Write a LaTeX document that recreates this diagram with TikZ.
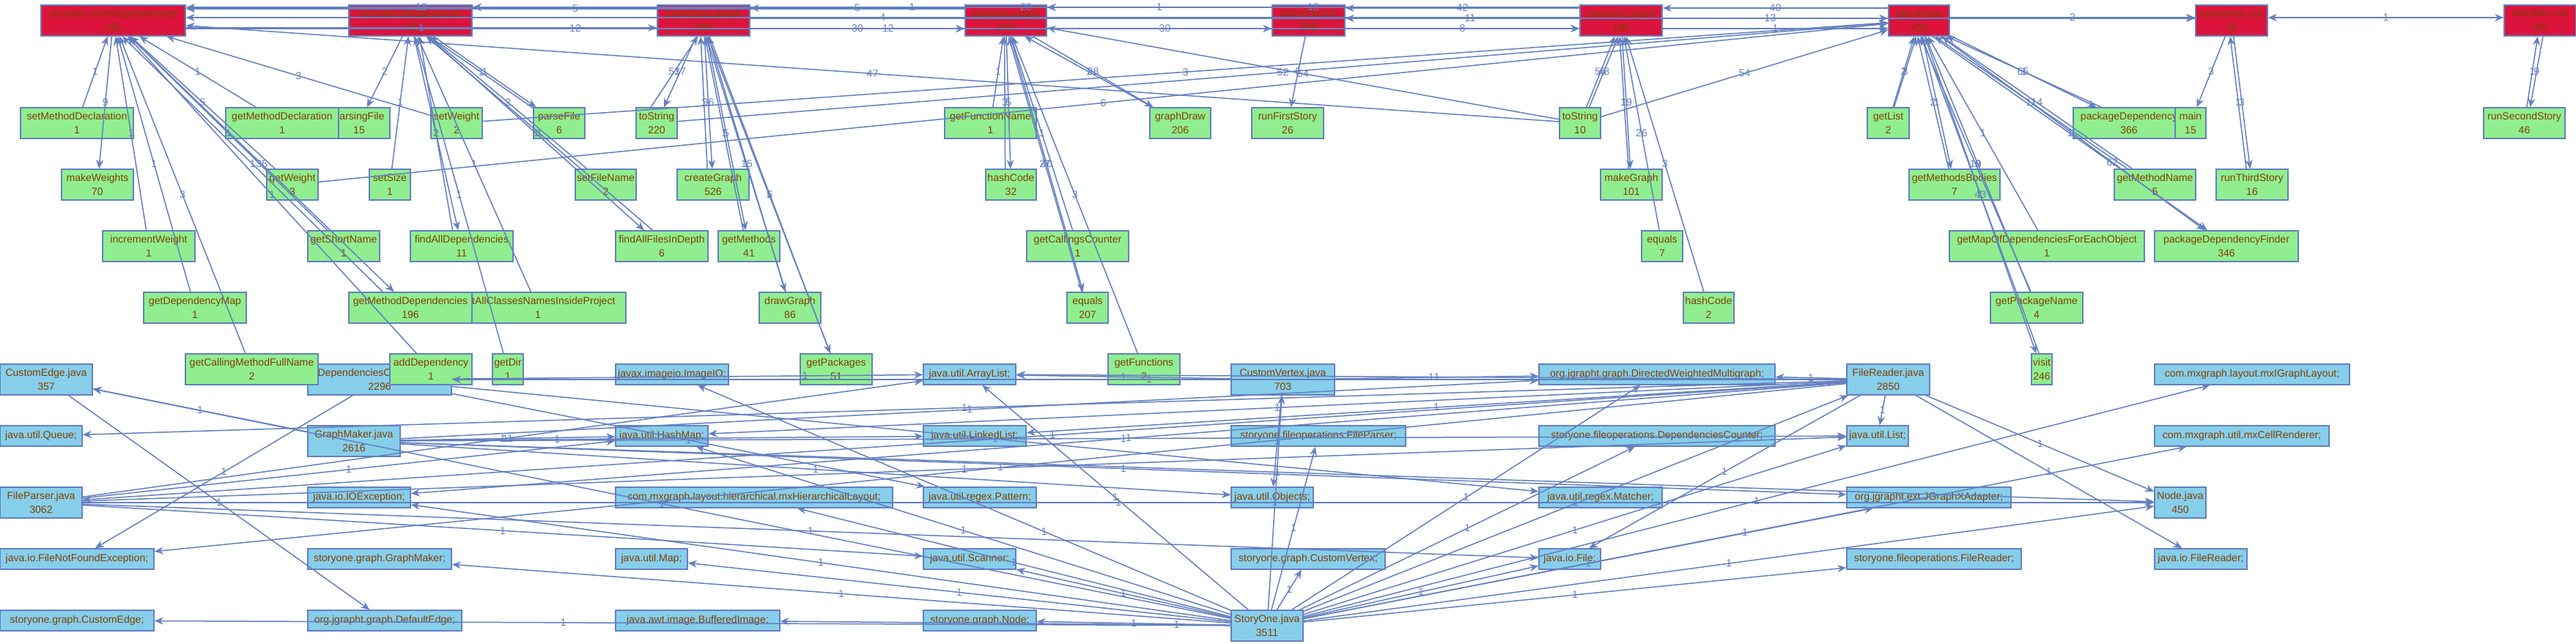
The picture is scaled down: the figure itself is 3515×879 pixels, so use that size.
\documentclass[tikz,border=0pt]{standalone}
\usepackage{fontspec}
\setmainfont{Liberation Sans}
\usetikzlibrary{arrows.meta}
\definecolor{pkgred}{RGB}{220,20,60}
\definecolor{methgreen}{RGB}{144,238,144}
\definecolor{fileblue}{RGB}{135,206,235}
\definecolor{edgeblue}{RGB}{100,128,192}
\definecolor{txtbrown}{RGB}{128,64,0}
\begin{document}
\begin{tikzpicture}[x=0.2mm, y=-0.2mm, >={Stealth[length=2.4mm,width=2mm]}, font=\fontsize{8}{10.8}\selectfont]
    \tikzset{box/.style={draw=edgeblue, line width=0.3mm, text=txtbrown, align=center, inner xsep=0.5pt, inner ysep=0pt, minimum height=8.4mm},
      pkg/.style={box, fill=pkgred},
      meth/.style={box, fill=methgreen},
      file/.style={box, fill=fileblue},
      imp/.style={box, fill=fileblue, minimum height=5.6mm},
      wd/.style={minimum width=#1*0.2mm},
      link/.style={draw=edgeblue, line width=0.3mm, ->},
      lbl/.style={text=edgeblue, inner sep=0pt, font=\fontsize{8}{8}\selectfont}}
    \useasboundingbox[fill=white] (0,0) rectangle (3515,879);
    % packages
    \node[pkg, wd=197] (methdep) at (154.5,28) {storytwo.methdependencies\\195};
    \node[pkg, wd=168] (fileops) at (560,28) {storyone.fileoperations\\70};
    \node[pkg, wd=126] (threegraph) at (960,28) {storythree.graph\\260};
    \node[pkg, wd=111] (twograph) at (1372.5,28) {storytwo.graph\\240};
    \node[pkg, wd=99] (onerun) at (1785.5,28) {storyone.run\\300};
    \node[pkg, wd=112] (onegraph) at (2212,28) {storyone.graph\\185};
    \node[pkg, wd=83] (three) at (2618.5,28) {storythree\\405};
    \node[pkg, wd=98] (threerun) at (3045,28) {storythree.run\\35};
    \node[pkg, wd=98] (tworun) at (3466,28) {storytwo.run\\40};
    % methods
    \node[meth, wd=154] (setMD) at (105,168) {setMethodDeclaration\\1};
    \node[meth, wd=84] (parsingF) at (490,168) {parsingFile\\15};
    \node[meth, wd=154] (getMD) at (385,168) {getMethodDeclaration\\1};
    \node[meth, wd=70] (setW) at (623,168) {setWeight\\2};
    \node[meth, wd=70] (parseF) at (763,168) {parseFile\\6};
    \node[meth, wd=56] (toStrA) at (896,168) {toString\\220};
    \node[meth, wd=125] (getFuncN) at (1351.5,168) {getFunctionName\\1};
    \node[meth, wd=83] (graphD) at (1610.5,168) {graphDraw\\206};
    \node[meth, wd=98] (runFirst) at (1757,168) {runFirstStory\\26};
    \node[meth, wd=56] (toStrB) at (2156,168) {toString\\10};
    \node[meth, wd=57] (getList) at (2576.5,168) {getList\\2};
    \node[meth, wd=152] (pkgDep) at (2905,168) {packageDependency\\366};
    \node[meth, wd=42] (main) at (2989,168) {main\\15};
    \node[meth, wd=111] (runSecond) at (3444.5,168) {runSecondStory\\46};
    \node[meth, wd=98] (makeW) at (133,252) {makeWeights\\70};
    \node[meth, wd=70] (getW) at (399,252) {getWeight\\3};
    \node[meth, wd=56] (setSize) at (532,252) {setSize\\1};
    \node[meth, wd=83] (setFileN) at (826.5,252) {setFileName\\2};
    \node[meth, wd=98] (createG) at (973,252) {createGraph\\526};
    \node[meth, wd=69] (hashA) at (1379.5,252) {hashCode\\32};
    \node[meth, wd=84] (makeG) at (2226,252) {makeGraph\\101};
    \node[meth, wd=124] (getMB) at (2667,252) {getMethodsBodies\\7};
    \node[meth, wd=111] (getMName) at (2940.5,252) {getMethodName\\5};
    \node[meth, wd=98] (runThird) at (3073,252) {runThirdStory\\16};
    \node[meth, wd=126] (incW) at (203,336) {incrementWeight\\1};
    \node[meth, wd=98] (getShort) at (469,336) {getShortName\\1};
    \node[meth, wd=140] (findAllDep) at (630,336) {findAllDependencies\\11};
    \node[meth, wd=126] (findAllFiles) at (903,336) {findAllFilesInDepth\\6};
    \node[meth, wd=84] (getMeths) at (1022,336) {getMethods\\41};
    \node[meth, wd=139] (getCallCnt) at (1470.5,336) {getCallingsCounter\\1};
    \node[meth, wd=56] (equalsB) at (2268,336) {equals\\7};
    \node[meth, wd=266] (getMapOf) at (2793,336) {getMapOfDependenciesForEachObject\\1};
    \node[meth, wd=196] (pkgFinder) at (3038,336) {packageDependencyFinder\\346};
    \node[meth, wd=140] (getDepMap) at (266,420) {getDependencyMap\\1};
    \node[meth, wd=240] (getAllCls) at (734,420) {getAllClassesNamesInsideProject\\1};
    \node[meth, wd=168] (getMDeps) at (560,420) {getMethodDependencies\\196};
    \node[meth, wd=84] (drawG) at (1078,420) {drawGraph\\86};
    \node[meth, wd=56] (equalsA) at (1484,420) {equals\\207};
    \node[meth, wd=69] (hashB) at (2331.5,420) {hashCode\\2};
    \node[meth, wd=126] (getPkgName) at (2779,420) {getPackageName\\4};
    \node[file, wd=196] (depCntJava) at (518,518) {DependenciesCounter.java\\2296};
    \node[meth, wd=181] (getCallFull) at (343.5,504) {getCallingMethodFullName\\2};
    \node[meth, wd=112] (addDep) at (588,504) {addDependency\\1};
    \node[meth, wd=42] (getDir) at (693,504) {getDir\\1};
    \node[meth, wd=98] (getPkgs) at (1141,504) {getPackages\\51};
    \node[meth, wd=98] (getFuncs) at (1561,504) {getFunctions\\2};
    \node[meth, wd=28] (visit) at (2786,504) {visit\\246};
    % java files
    \node[file, wd=126] (custEdgeJava) at (63,518) {CustomEdge.java\\357};
    \node[file, wd=126] (graphMakerJava) at (483,602) {GraphMaker.java\\2616};
    \node[file, wd=112] (fileParserJava) at (56,686) {FileParser.java\\3062};
    \node[file, wd=141] (custVertexJava) at (1750.5,518) {CustomVertex.java\\703};
    \node[file, wd=113] (fileReaderJava) at (2576.5,518) {FileReader.java\\2850};
    \node[file, wd=98] (storyOneJava) at (1729,854) {StoryOne.java\\3511};
    \node[file, wd=70] (nodeJava) at (2975,686) {Node.java\\450};
    % imports
    \node[imp, wd=112] (queueImp) at (56,595) {java.util.Queue;};
    \node[imp, wd=210] (fnfImp) at (105,763) {java.io.FileNotFoundException;};
    \node[imp, wd=210] (custEdgeImp) at (105,847) {storyone.graph.CustomEdge;};
    \node[imp, wd=140] (ioException) at (490,679) {java.io.IOException;};
    \node[imp, wd=196] (graphMakerImp) at (518,763) {storyone.graph.GraphMaker;};
    \node[imp, wd=210] (defEdge) at (525,847) {org.jgrapht.graph.DefaultEdge;};
    \node[imp, wd=154] (imageIO) at (917,511) {javax.imageio.ImageIO;};
    \node[imp, wd=126] (hashMapImp) at (903,595) {java.util.HashMap;};
    \node[imp, wd=378] (hierLayout) at (1029,679) {com.mxgraph.layout.hierarchical.mxHierarchicalLayout;};
    \node[imp, wd=98] (mapImp) at (889,763) {java.util.Map;};
    \node[imp, wd=224] (bufImg) at (952,847) {java.awt.image.BufferedImage;};
    \node[imp, wd=126] (arrayList) at (1323,511) {java.util.ArrayList;};
    \node[imp, wd=140] (linkedList) at (1330,595) {java.util.LinkedList;};
    \node[imp, wd=154] (patternImp) at (1337,679) {java.util.regex.Pattern;};
    \node[imp, wd=126] (scannerImp) at (1323,763) {java.util.Scanner;};
    \node[imp, wd=154] (nodeImp) at (1337,847) {storyone.graph.Node;};
    \node[imp, wd=238] (fileParserImp) at (1799,595) {storyone.fileoperations.FileParser;};
    \node[imp, wd=112] (objectsImp) at (1736,679) {java.util.Objects;};
    \node[imp, wd=210] (custVertexImp) at (1785,763) {storyone.graph.CustomVertex;};
    \node[imp, wd=322] (dwMultigraph) at (2261,511) {org.jgrapht.graph.DirectedWeightedMultigraph;};
    \node[imp, wd=322] (depCntImp) at (2261,595) {storyone.fileoperations.DependenciesCounter;};
    \node[imp, wd=168] (matcherImp) at (2184,679) {java.util.regex.Matcher;};
    \node[imp, wd=84] (fileImp) at (2142,763) {java.io.File;};
    \node[imp, wd=84] (listImp) at (2562,595) {java.util.List;};
    \node[imp, wd=224] (jgxAdapter) at (2632,679) {org.jgrapht.ext.JGraphXAdapter;};
    \node[imp, wd=238] (fileReaderImp) at (2639,763) {storyone.fileoperations.FileReader;};
    \node[imp, wd=266] (mxLayout) at (3073,511) {com.mxgraph.layout.mxIGraphLayout;};
    \node[imp, wd=238] (cellRenderer) at (3059,595) {com.mxgraph.util.mxCellRenderer;};
    \node[imp, wd=126] (ioFileReader) at (3003,763) {java.io.FileReader;};
    % package to package
    \draw[link] ([yshift=3.6mm]threegraph.west) -- node[lbl]{18} ([yshift=3.6mm]methdep.east);
    \draw[link] ([yshift=-2mm]methdep.east) -- node[lbl]{1} ([yshift=-2mm]threegraph.west);
    \draw[link] ([yshift=3.2mm]twograph.west) -- node[lbl]{5} ([yshift=3.2mm]methdep.east);
    \draw[link] ([yshift=-2.2mm]methdep.east) -- node[lbl]{12} ([yshift=-2.2mm]twograph.west);
    \draw[link] ([yshift=3.4mm]twograph.west) -- node[lbl]{5} ([yshift=3.4mm]threegraph.east);
    \draw[link] ([yshift=-2.2mm]threegraph.east) -- node[lbl]{30} ([yshift=-2.2mm]twograph.west);
    \draw[link] ([yshift=3.6mm]onerun.west) -- node[lbl, pos=0.45]{1} ([yshift=3.6mm]fileops.east);
    \draw[link] ([yshift=-2.2mm]fileops.east) -- node[lbl, pos=0.52]{12} ([yshift=-2.2mm]onerun.west);
    \draw[link] ([yshift=0.8mm]onegraph.west) -- node[lbl]{4} ([yshift=0.8mm]methdep.east);
    \draw[link] ([yshift=3.6mm]onegraph.west) -- node[lbl]{20} ([yshift=3.6mm]fileops.east);
    \draw[link] ([yshift=3.6mm]onerun.west) -- node[lbl]{1} ([yshift=3.6mm]twograph.east);
    \draw[link] ([yshift=-2.2mm]threegraph.east) -- node[lbl]{30} ([yshift=-2.2mm]onegraph.west);
    \draw[link] ([yshift=3.6mm]onegraph.west) -- node[lbl]{18} ([yshift=3.6mm]twograph.east);
    \draw[link] ([yshift=3.4mm]onegraph.west) -- node[lbl]{42} ([yshift=3.4mm]onerun.east);
    \draw[link] ([yshift=0.6mm]twograph.east) -- node[lbl]{1} ([yshift=0.6mm]three.west);
    \draw[link] ([yshift=0.6mm]threegraph.east) -- node[lbl]{1} ([yshift=0.6mm]threerun.west);
    \draw[link] ([yshift=-2.2mm]onerun.east) -- node[lbl]{8} ([yshift=-2.2mm]onegraph.west);
    \draw[link] ([yshift=3.4mm]three.west) -- node[lbl]{40} ([yshift=3.4mm]onegraph.east);
    \draw[link] ([yshift=0.6mm]threerun.west) -- node[lbl]{13} ([yshift=0.6mm]onerun.east);
    \draw[link] ([yshift=-2.2mm]onegraph.east) -- node[lbl]{1} ([yshift=-2.2mm]three.west);
    \draw[link] ([yshift=0.8mm]three.east) -- node[lbl]{2} ([yshift=0.8mm]threerun.west);
    \draw[link, <->] ([yshift=0.8mm]threerun.east) -- node[lbl]{1} ([yshift=0.8mm]tworun.west);
    % storytwo.methdependencies
    \draw[link] (setMD) -- node[lbl]{1} (methdep);
    \draw[link] (methdep) -- node[lbl]{9} (makeW);
    \draw[link] (incW) -- node[lbl]{1} (methdep);
    \draw[link] (getDepMap) -- node[lbl]{1} (methdep);
    \draw[link] (getCallFull) -- node[lbl]{3} (methdep);
    \draw[link] (getMD) -- node[lbl]{1} (methdep);
    \draw[link] (setW) -- node[lbl]{3} (methdep);
    \draw[link] (getW) -- node[lbl]{5} (methdep);
    \draw[link] (getShort) -- node[lbl]{1} (methdep);
    \draw[link] (methdep) -- node[lbl]{35} (getMDeps);
    \draw[link] (getMDeps.150) -- node[lbl]{1} (methdep.-60);
    \draw[link] (addDep) -- node[lbl]{1} (methdep);
    \draw[link] (toStrB) -- node[lbl]{47} (methdep);
    % storyone.fileoperations
    \draw[link] (fileops) -- node[lbl]{2} (parsingF);
    \draw[link] (setSize) -- node[lbl]{1} (fileops);
    \draw[link] (fileops) -- node[lbl]{2} (findAllDep);
    \draw[link] (findAllDep.120) -- node[lbl]{1} (fileops.-60);
    \draw[link] (getAllCls) -- node[lbl]{1} (fileops);
    \draw[link] (getDir) -- node[lbl]{1} (fileops);
    \draw[link] (fileops) -- node[lbl]{1} (parseF);
    \draw[link] (parseF.150) -- node[lbl]{1} (fileops.-40);
    \draw[link] (setFileN) -- node[lbl]{2} (fileops);
    \draw[link] (fileops) -- node[lbl]{1} (findAllFiles);
    \draw[link] (findAllFiles.120) -- node[lbl]{1} (fileops.-45);
    \draw[link] (setW) -- node[lbl]{3} (three);
    \draw[link] (getW) -- node[lbl]{6} (three);
    \draw[link] (toStrA) -- node[lbl]{52} (three);
    % storythree.graph
    \draw[link] (threegraph) -- node[lbl]{37} (toStrA);
    \draw[link] (toStrA.110) -- node[lbl]{51} (threegraph.-110);
    \draw[link] (threegraph) -- node[lbl]{96} (createG);
    \draw[link] (createG.110) -- node[lbl]{1} (threegraph.-100);
    \draw[link] (threegraph) -- node[lbl]{5} (getMeths);
    \draw[link] (getMeths.110) -- node[lbl]{1} (threegraph.-85);
    \draw[link] (threegraph) -- node[lbl]{15} (drawG);
    \draw[link] (drawG.105) -- node[lbl]{1} (threegraph.-80);
    \draw[link] (threegraph) -- node[lbl]{6} (getPkgs);
    \draw[link] (getPkgs.110) -- node[lbl]{1} (threegraph.-75);
    % storytwo.graph
    \draw[link] (getFuncN) -- node[lbl]{1} (twograph);
    \draw[link] (twograph) -- node[lbl]{5} (hashA);
    \draw[link] (hashA.110) -- node[lbl]{3} (twograph.-95);
    \draw[link] (getCallCnt) -- node[lbl]{1} (twograph);
    \draw[link] (twograph) -- node[lbl]{40} (equalsA);
    \draw[link] (equalsA.110) -- node[lbl]{27} (twograph.-80);
    \draw[link] (getFuncs) -- node[lbl]{3} (twograph);
    \draw[link] (twograph) -- node[lbl]{38} (graphD);
    \draw[link] (graphD.150) -- node[lbl]{1} (twograph.-40);
    \draw[link] (toStrB) -- node[lbl]{54} (twograph);
    % storyone.run and storyone.graph
    \draw[link] (onerun) -- node[lbl]{5} (runFirst);
    \draw[link] (toStrB) -- node[lbl]{55} (onegraph);
    \draw[link] (toStrB.60) -- node[lbl]{48} (onegraph.-100);
    \draw[link] (onegraph) -- node[lbl]{19} (makeG);
    \draw[link] (makeG.100) -- node[lbl]{1} (onegraph.-95);
    \draw[link] (equalsB) -- node[lbl]{26} (onegraph);
    \draw[link] (hashB) -- node[lbl]{3} (onegraph);
    \draw[link] (toStrB) -- node[lbl]{54} (three);
    % storythree
    \draw[link] (getList) -- node[lbl]{2} (three);
    \draw[link] (getList.70) -- node[lbl]{3} (three.-100);
    \draw[link] (three) -- node[lbl]{1} (getMB);
    \draw[link] (getMB.110) -- node[lbl]{2} (three.-95);
    \draw[link] (getMapOf) -- node[lbl]{1} (three);
    \draw[link] (getPkgName) -- node[lbl]{9} (three);
    \draw[link] (getPkgName.110) -- node[lbl]{10} (three.-85);
    \draw[link] (three) -- node[lbl]{43} (visit);
    \draw[link] (visit.100) -- node[lbl]{1} (three.-80);
    \draw[link] (three) -- node[lbl]{65} (pkgDep);
    \draw[link] (pkgDep.150) -- node[lbl]{1} (three.-30);
    \draw[link] (getMName) -- node[lbl]{14} (three);
    \draw[link] (getMName.150) -- node[lbl]{11} (three.-45);
    \draw[link] (three) -- node[lbl, pos=0.65]{62} (pkgFinder);
    \draw[link] (three.-50) -- node[lbl]{1} (pkgFinder.140);
    % storythree.run and storytwo.run
    \draw[link] (threerun) -- node[lbl]{3} (main);
    \draw[link] (threerun) -- node[lbl]{3} (runThird);
    \draw[link] (runThird.110) -- node[lbl]{1} (threerun.-95);
    \draw[link] (runSecond) -- node[lbl]{1} (tworun);
    \draw[link] (tworun.-80) -- node[lbl]{9} (runSecond.70);
    % StoryOne.java
    \draw[link] (storyOneJava) -- node[lbl]{1} (nodeImp);
    \draw[link] (storyOneJava) -- node[lbl, pos=0.12]{1} (bufImg);
    \draw[link] (storyOneJava) -- node[lbl, pos=0.62]{1} (custEdgeImp);
    \draw[link] (storyOneJava) -- node[lbl]{1} (mapImp);
    \draw[link] (storyOneJava) -- node[lbl]{1} (scannerImp);
    \draw[link] (storyOneJava) -- node[lbl]{1} (hashMapImp);
    \draw[link] (storyOneJava) -- node[lbl]{1} (hierLayout);
    \draw[link] (storyOneJava) -- node[lbl, pos=0.35]{1} (imageIO);
    \draw[link] (storyOneJava) -- node[lbl]{1} (arrayList);
    \draw[link] (storyOneJava) -- node[lbl]{1} (graphMakerImp);
    \draw[link] (storyOneJava) -- node[lbl]{1} (custVertexImp);
    \draw[link] (storyOneJava) -- node[lbl]{1} (custVertexJava);
    \draw[link] (storyOneJava) -- node[lbl]{1} (dwMultigraph);
    \draw[link] (storyOneJava) -- node[lbl]{1} (depCntImp);
    \draw[link] (storyOneJava) -- node[lbl]{1} (fileParserImp);
    \draw[link] (storyOneJava) -- node[lbl]{1} (fileImp);
    \draw[link] (storyOneJava) -- node[lbl]{1} (listImp);
    \draw[link] (storyOneJava) -- node[lbl]{1} (jgxAdapter);
    \draw[link] (storyOneJava) -- node[lbl]{1} (fileReaderImp);
    \draw[link] (storyOneJava) -- node[lbl]{1} (fileReaderJava);
    \draw[link] (storyOneJava) -- node[lbl]{1} (nodeJava);
    \draw[link] (storyOneJava) -- node[lbl]{1} (mxLayout);
    \draw[link] (storyOneJava) -- node[lbl]{1} (cellRenderer);
    \draw[link] (storyOneJava) -- node[lbl]{1} (custEdgeJava);
    \draw[link] (storyOneJava) -- node[lbl]{1} (ioException);
    % FileReader.java
    \draw[link] (fileReaderJava) -- node[lbl]{1} (queueImp);
    \draw[link] (fileReaderJava) -- node[lbl]{1} (fnfImp);
    \draw[link] (fileReaderJava) -- node[lbl]{1} (linkedList);
    \draw[link] (fileReaderJava) -- node[lbl]{1} (hashMapImp);
    \draw[link] (fileReaderJava) -- node[lbl]{1} (arrayList);
    \draw[link] (fileReaderJava) -- node[lbl]{1} (ioException);
    \draw[link] (fileReaderJava) -- node[lbl]{1} (depCntJava);
    \draw[link] (fileReaderJava) -- node[lbl]{1} (listImp);
    \draw[link] (fileReaderJava) -- node[lbl]{1} (nodeJava);
    \draw[link] (fileReaderJava) -- node[lbl]{1} (fileImp);
    \draw[link] (fileReaderJava) -- node[lbl]{1} (dwMultigraph);
    \draw[link] (fileReaderJava) -- node[lbl, pos=0.45]{1} (fileParserJava);
    \draw[link] (fileReaderJava) -- node[lbl]{1} (ioFileReader);
    % DependenciesCounter.java, GraphMaker.java, FileParser.java
    \draw[link] (depCntJava) -- node[lbl]{1} (matcherImp);
    \draw[link] (depCntJava) -- node[lbl]{1} (patternImp);
    \draw[link] (depCntJava) -- node[lbl]{1} (fnfImp);
    \draw[link] (depCntJava) -- node[lbl, pos=0.75]{1} (arrayList);
    \draw[link] (graphMakerJava) -- node[lbl]{1} (custEdgeJava);
    \draw[link] (graphMakerJava) -- node[lbl]{1} (objectsImp);
    \draw[link] (graphMakerJava) -- node[lbl, pos=0.3]{1} (linkedList);
    \draw[link] (graphMakerJava) -- node[lbl]{11} (hashMapImp);
    \draw[link] (graphMakerJava) -- node[lbl]{1} (dwMultigraph);
    \draw[link] (graphMakerJava) -- node[lbl]{1} (jgxAdapter);
    \draw[link] (graphMakerJava) -- node[lbl]{1} (listImp);
    \draw[link] (graphMakerJava) -- node[lbl]{1} (nodeJava);
    \draw[link] (fileParserJava) -- node[lbl]{1} (listImp);
    \draw[link] (fileParserJava) -- node[lbl]{1} (arrayList);
    \draw[link] (fileParserJava) -- node[lbl]{1} (fileImp);
    \draw[link] (fileParserJava) -- node[lbl]{1} (scannerImp);
    \draw[link] (fileParserJava) -- node[lbl]{1} (hashMapImp);
    \draw[link] (fileParserJava) -- node[lbl]{1} (nodeJava);
    % CustomVertex.java, CustomEdge.java
    \draw[link] (custVertexJava) -- node[lbl]{1} (arrayList);
    \draw[link] (custVertexJava) -- node[lbl]{1} (dwMultigraph);
    \draw[link] (custVertexJava) -- node[lbl]{1} (objectsImp);
    \draw[link] (custEdgeJava) -- node[lbl]{1} (defEdge);
\end{tikzpicture}
\end{document}
